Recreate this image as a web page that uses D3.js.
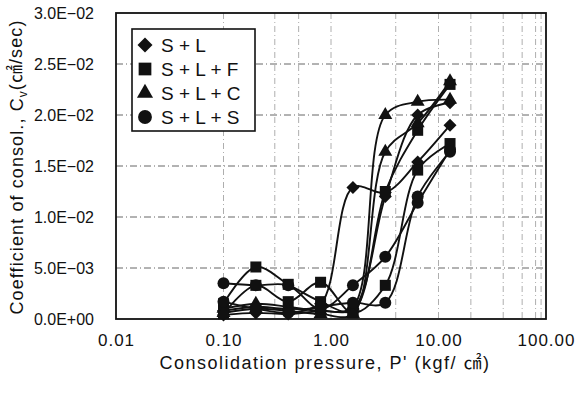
<!DOCTYPE html>
<html><head><meta charset="utf-8">
<script src="https://cdn.jsdelivr.net/npm/d3@7"></script>
<style>
html,body{margin:0;padding:0;background:#fff;}
svg{display:block;}
text{font-family:"Liberation Sans",Arial,"Noto Sans CJK KR",sans-serif;fill:#111;}
</style></head>
<body>
<svg id="chart" width="577" height="396"></svg>
<script>
// ---- data ----
const pressures = [0.1, 0.2, 0.4, 0.8, 1.6, 3.2, 6.4, 12.8];
const seriesNames = ["S + L", "S + L + F", "S + L + C", "S + L + S"];
const markerTypes = ["diamond", "square", "triangle", "circle"];
const slA  = [0.0008, 0.0012, 0.0010, 0.0015, 0.0129, 0.0124, 0.0154, 0.0190];
const slB  = [0.0004, 0.0006, 0.0005, 0.0008, 0.0010, 0.0120, 0.0200, 0.0212];
const slfA = [0.0015, 0.0051, 0.0034, 0.0017, 0.0008, 0.0125, 0.0185, 0.0230];
const slfB = [0.0005, 0.0033, 0.0017, 0.0036, 0.0006, 0.0033, 0.0146, 0.0172];
const slcA = [0.0010, 0.0015, 0.0012, 0.0008, 0.0012, 0.0200, 0.0213, 0.0215];
const slcB = [0.0006, 0.0010, 0.0008, 0.0005, 0.0005, 0.0164, 0.0192, 0.0233];
const slsA = [0.0035, 0.0033, 0.0033, 0.0010, 0.0033, 0.0061, 0.0114, 0.0166];
const slsB = [0.0017, 0.0010, 0.0006, 0.0012, 0.0016, 0.0016, 0.0120, 0.0164];
const xTickValues = [0.01, 0.1, 1, 10, 100];
const xTickLabels = ["0.01", "0.10", "1.00", "10.00", "100.00"];
const yTickValues = [0, 0.005, 0.01, 0.015, 0.02, 0.025, 0.03];
const yTickLabels = ["0.0E+00", "5.0E\u221203", "1.0E\u221202", "1.5E\u221202", "2.0E\u221202", "2.5E\u221202", "3.0E\u221202"];
const xGridValues = [0.1, 0.3, 0.5, 1, 4, 10, 20, 40, 60, 80, 90];

const curves = [
  {g: 0, v: slA}, {g: 0, v: slB},
  {g: 1, v: slfA}, {g: 1, v: slfB},
  {g: 2, v: slcA}, {g: 2, v: slcB},
  {g: 3, v: slsA}, {g: 3, v: slsB}
];

// ---- layout ----
const svg = d3.select("#chart");
const L = 116, T = 13, R = 546, B = 319;
const x = d3.scaleLog().domain([0.01, 100]).range([L, R]);
const y = d3.scaleLinear().domain([0, 0.03]).range([B, T]);

// gridlines
const grid = svg.append("g");
grid.selectAll("line.h").data(yTickValues.slice(1, -1)).join("line")
  .attr("x1", L).attr("x2", R).attr("y1", d => y(d)).attr("y2", d => y(d))
  .attr("stroke", "#666").attr("stroke-width", 1).attr("stroke-dasharray", "7,3,1,3");
grid.selectAll("line.v").data(xGridValues).join("line")
  .attr("x1", d => x(d)).attr("x2", d => x(d)).attr("y1", T).attr("y2", B)
  .attr("stroke", "#999").attr("stroke-width", 0.8).attr("stroke-dasharray", "6,3,1,3");

// axes (labels only, via d3 axes)
const yAxis = d3.axisLeft(y).tickValues(yTickValues).tickSize(0).tickPadding(0)
  .tickFormat((d, i) => yTickLabels[i]);
const gy = svg.append("g").attr("transform", `translate(${L - 22},0)`).call(yAxis);
gy.select(".domain").remove();
gy.selectAll("text").attr("font-size", 16).attr("font-family", "Liberation Sans, Arial, sans-serif").attr("fill", "#111");

const xAxis = d3.axisBottom(x).tickValues(xTickValues).tickSize(0).tickPadding(0)
  .tickFormat((d, i) => xTickLabels[i]);
const gx = svg.append("g").attr("transform", `translate(0,${B + 15})`).call(xAxis);
gx.select(".domain").remove();
gx.selectAll("text").attr("font-size", 17).attr("letter-spacing", 1).attr("font-family", "Liberation Sans, Arial, sans-serif").attr("fill", "#111");

// series lines
const line = d3.line().x((d, i) => x(pressures[i])).y(d => y(d)).curve(d3.curveCatmullRom.alpha(0.5));
const plot = svg.append("g");
plot.selectAll("path.s").data(curves).join("path")
  .attr("d", d => line(d.v)).attr("fill", "none").attr("stroke", "#111").attr("stroke-width", 1.9);

function symbolPath(type, s) {
  if (type === "diamond") return d3.symbol(d3.symbolSquare, s * s / 2)();
  if (type === "square") return d3.symbol(d3.symbolSquare, s * s * 0.72)();
  if (type === "triangle") return d3.symbol(d3.symbolTriangle, s * s * 0.5)();
  return d3.symbol(d3.symbolCircle, Math.PI * (s / 2) * (s / 2) * 0.85)();
}
curves.forEach(c => {
  const t = markerTypes[c.g];
  plot.append("g").selectAll("path").data(c.v).join("path")
    .attr("d", symbolPath(t, 13))
    .attr("transform", (d, i) => `translate(${x(pressures[i])},${y(d)})` + (t === "diamond" ? " rotate(45)" : ""))
    .attr("fill", "#111");
});

// frame
svg.append("rect").attr("x", L).attr("y", T).attr("width", R - L).attr("height", B - T)
  .attr("fill", "none").attr("stroke", "#111").attr("stroke-width", 1.8);

// legend
const lg = svg.append("g");
lg.append("rect").attr("x", 132).attr("y", 29).attr("width", 123).attr("height", 102)
  .attr("fill", "#fff").attr("stroke", "#111").attr("stroke-width", 1.6);
seriesNames.forEach((n, i) => {
  const cy = 45 + i * 24;
  const t = markerTypes[i];
  lg.append("path").attr("d", symbolPath(t, 15))
    .attr("transform", `translate(145,${cy})` + (t === "diamond" ? " rotate(45)" : ""))
    .attr("fill", "#111");
  lg.append("text").attr("x", 161).attr("y", cy).attr("dy", "0.36em")
    .attr("font-size", 19).text(n);
});

// axis titles
svg.append("text").attr("x", 325).attr("y", 363).attr("dy", "0.36em").attr("text-anchor", "middle")
  .attr("font-size", 18).attr("letter-spacing", 1.5).text("Consolidation pressure, P' (kgf/ \u33A0)");
const yt = svg.append("text").attr("transform", "translate(17,167) rotate(-90)")
  .attr("text-anchor", "middle").attr("dy", "0.36em").attr("font-size", 18).attr("letter-spacing", 1.1);
yt.append("tspan").text("Coefficient of consol., C");
yt.append("tspan").attr("font-size", 12).attr("dy", "0.3em").text("v");
yt.append("tspan").attr("dy", "-0.3em").text("(\u33A0/sec)");
</script>
</body></html>
